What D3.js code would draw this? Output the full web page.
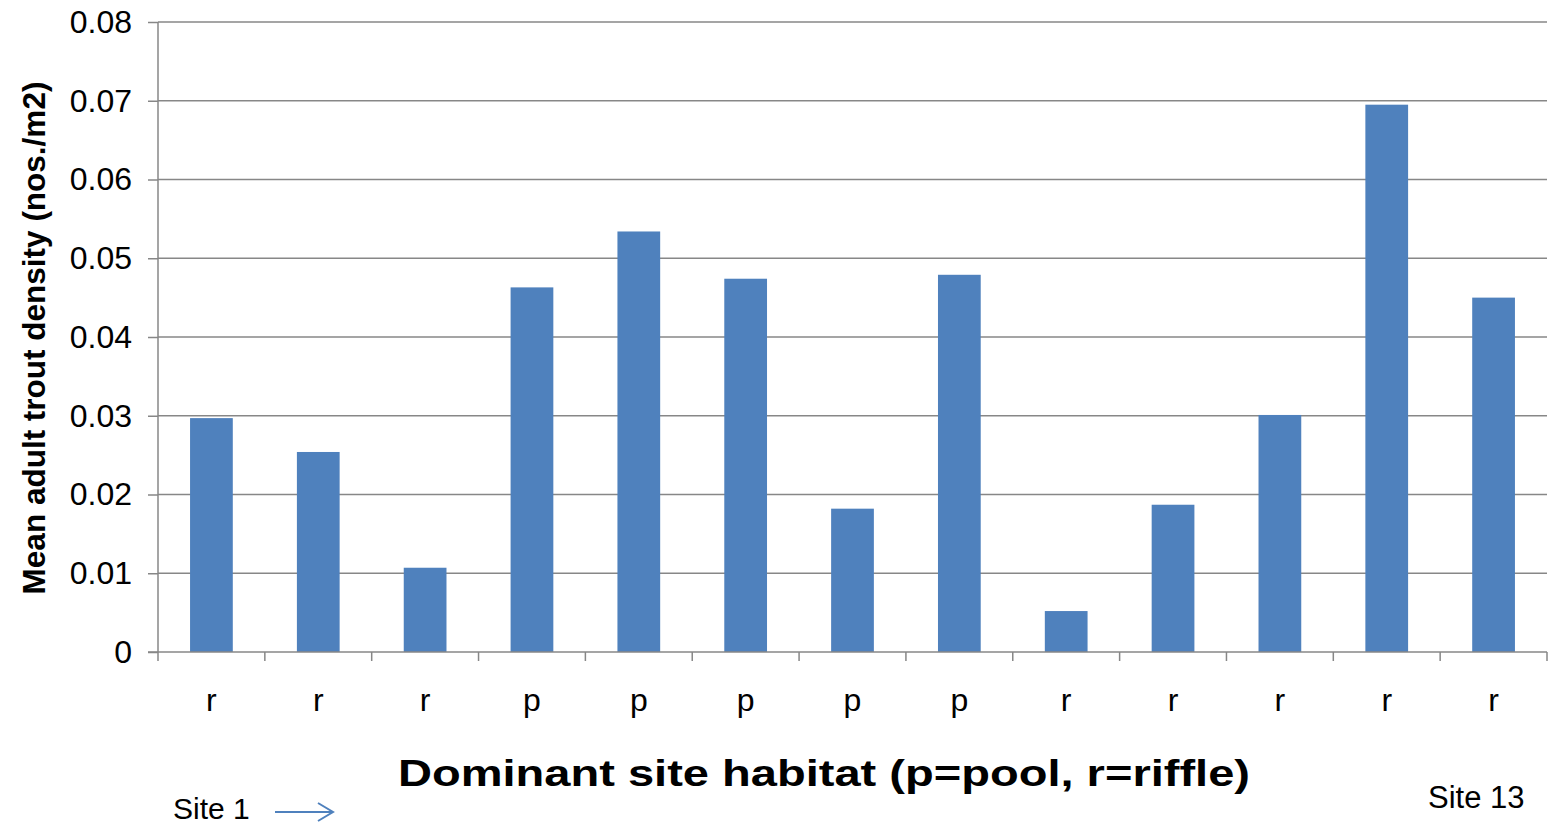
<!DOCTYPE html>
<html>
<head>
<meta charset="utf-8">
<script src="https://cdn.jsdelivr.net/npm/d3@7"></script>
<style>
  body { margin: 0; background: #fff; }
  text { font-family: "Liberation Sans", Arial, sans-serif; fill: #000; }
</style>
</head>
<body>
<svg></svg>
<script>
  var width = 1549;
  var height = 827;

  // data
  var sites = ['1', '2', '3', '4', '5', '6', '7', '8', '9', '10', '11', '12', '13'];
  var habitat = ['r', 'r', 'r', 'p', 'p', 'p', 'p', 'p', 'r', 'r', 'r', 'r', 'r'];
  var density = [0.0297, 0.0254, 0.0107, 0.0463, 0.0534, 0.0474, 0.0182, 0.0479, 0.0052, 0.0187, 0.0301, 0.0695, 0.0450];
  var yTicks = [0, 0.01, 0.02, 0.03, 0.04, 0.05, 0.06, 0.07, 0.08];

  var margin = { left: 158, right: 2, top: 22, bottom: 175 };

  var svg = d3.select('svg')
    .attr('width', width)
    .attr('height', height)
    ;

  var x = d3.scaleBand()
    .domain(sites)
    .range([margin.left, width - margin.right])
    .paddingInner(0.6)
    .paddingOuter(0.3)
    ;
  var y = d3.scaleLinear()
    .domain([0, 0.08])
    .range([height - margin.bottom, margin.top])
    ;

  // gridlines
  svg.append('g')
    .selectAll('line')
    .data(yTicks.slice(1))
    .enter()
    .append('line')
    .attr('x1', margin.left)
    .attr('x2', width - margin.right)
    .attr('y1', function (d) { return y(d); })
    .attr('y2', function (d) { return y(d); })
    .attr('stroke', '#878787')
    .attr('stroke-width', 1.5);

  // bars
  svg.append('g')
    .selectAll('rect')
    .data(density)
    .enter()
    .append('rect')
    .attr('x', function (d, i) { return x(sites[i]); })
    .attr('y', function (d) { return y(d); })
    .attr('width', x.bandwidth())
    .attr('height', function (d) { return y(0) - y(d); })
    .attr('fill', '#4F81BD');

  // y axis
  var yAxis = d3.axisLeft(y)
    .tickValues(yTicks)
    .tickSize(10)
    .tickPadding(16)
    .tickFormat(function (d) { return d === 0 ? '0' : d3.format('.2f')(d); });
  var gy = svg.append('g')
    .attr('transform', 'translate(' + margin.left + ',0)')
    .call(yAxis);
  gy.select('.domain').attr('stroke', '#878787').attr('stroke-width', 1.5).attr('d', 'M0,' + y(0.08) + 'V' + y(0));
  gy.selectAll('.tick line').attr('stroke', '#878787').attr('stroke-width', 1.5);
  gy.selectAll('.tick text')
    .style('font-size', '32px')
    .style('font-family', '"Liberation Sans", Arial, sans-serif')
    .attr('fill', '#000');

  // x axis: ticks on category boundaries
  var boundaries = sites.map(function (s) { return x(s) - x.step() * 0.3; });
  boundaries.push(width - margin.right);
  var gx = svg.append('g');
  gx.append('line')
    .attr('x1', margin.left - 10)
    .attr('x2', width - margin.right)
    .attr('y1', y(0))
    .attr('y2', y(0))
    .attr('stroke', '#878787')
    .attr('stroke-width', 1.5);
  gx.selectAll('line.tk')
    .data(boundaries)
    .enter()
    .append('line')
    .attr('class', 'tk')
    .attr('x1', function (d) { return d; })
    .attr('x2', function (d) { return d; })
    .attr('y1', y(0))
    .attr('y2', y(0) + 9)
    .attr('stroke', '#878787')
    .attr('stroke-width', 1.5);
  gx.selectAll('text')
    .data(habitat)
    .enter()
    .append('text')
    .attr('x', function (d, i) { return x(sites[i]) + x.bandwidth() / 2; })
    .attr('y', 711)
    .attr('text-anchor', 'middle')
    .style('font-size', '32px')
    .text(function (d) { return d; });

  // titles
  svg.append('text')
    .attr('transform', 'translate(45,' + 338 + ') rotate(-90)')
    .attr('text-anchor', 'middle')
    .style('font-size', '31.5px')
    .style('font-weight', 'bold')
    .text('Mean adult trout density (nos./m2)');

  svg.append('text')
    .attr('x', 398)
    .attr('y', 786)
    .attr('textLength', 852)
    .attr('lengthAdjust', 'spacingAndGlyphs')
    .style('font-size', '37px')
    .style('font-weight', 'bold')
    .text('Dominant site habitat (p=pool, r=riffle)');

  svg.append('text')
    .attr('x', 173)
    .attr('y', 819)
    .style('font-size', '30px')
    .text('Site 1');

  svg.append('text')
    .attr('x', 1428)
    .attr('y', 808)
    .style('font-size', '31px')
    .text('Site 13');

  // arrow
  svg.append('path')
    .attr('d', 'M275,812H332M318,803L333,812L318,821')
    .attr('fill', 'none')
    .attr('stroke', '#4F81BD')
    .attr('stroke-width', 2);
</script>
</body>
</html>
